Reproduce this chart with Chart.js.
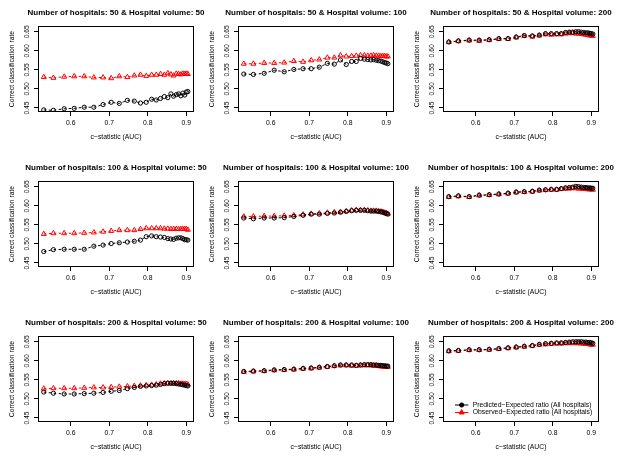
<!DOCTYPE html>
<html><head><meta charset="utf-8">
<script src="https://cdn.jsdelivr.net/npm/chart.js@4/dist/chart.umd.min.js"></script>
<style>
html,body{margin:0;padding:0;background:#fff;}
#wrap{position:relative;width:623px;height:460px;overflow:hidden;background:#fff;}
#wrap canvas{position:absolute;}
</style></head><body><div id="wrap"></div>
<script>
// ---------------- data ----------------
const auc = [0.530,0.555,0.583,0.609,0.635,0.660,0.684,0.705,0.726,0.747,0.765,0.781,0.796,0.810,0.822,0.833,0.843,0.852,0.860,0.867,0.874,0.880,0.886,0.891,0.896,0.900,0.904];
const xTicks = [0.6,0.7,0.8,0.9];
const yTicks = [0.45,0.50,0.55,0.60,0.65];
const hospitals = [50,100,200];
const volumes = [50,100,200];
const seriesNames = ["Predicted\u2212Expected ratio (All hospitals)","Observed\u2212Expected ratio (All hospitals)"];
const xTitle = "c\u2212statistic (AUC)";
const yTitle = "Correct classification rate";

const pe_50_50  = [0.445,0.444,0.448,0.449,0.452,0.452,0.459,0.465,0.462,0.470,0.468,0.463,0.465,0.473,0.471,0.475,0.480,0.477,0.487,0.481,0.485,0.487,0.482,0.489,0.484,0.492,0.493];
const oe_50_50  = [0.531,0.529,0.532,0.533,0.533,0.530,0.530,0.528,0.533,0.531,0.535,0.537,0.534,0.537,0.537,0.539,0.537,0.541,0.538,0.535,0.540,0.539,0.538,0.540,0.539,0.540,0.539];
const pe_50_100 = [0.539,0.538,0.541,0.549,0.545,0.551,0.553,0.553,0.557,0.567,0.565,0.576,0.564,0.572,0.572,0.580,0.578,0.577,0.576,0.577,0.575,0.574,0.573,0.571,0.569,0.568,0.566];
const oe_50_100 = [0.566,0.566,0.568,0.568,0.569,0.573,0.571,0.575,0.577,0.582,0.582,0.588,0.585,0.586,0.587,0.588,0.588,0.587,0.587,0.588,0.587,0.587,0.586,0.586,0.586,0.585,0.585];
const pe_50_200 = [0.623,0.626,0.628,0.628,0.629,0.632,0.632,0.636,0.640,0.639,0.641,0.645,0.645,0.645,0.645,0.648,0.649,0.649,0.650,0.650,0.649,0.648,0.647,0.647,0.646,0.645,0.644];
const oe_50_200 = [0.623,0.625,0.627,0.626,0.628,0.631,0.631,0.635,0.639,0.637,0.640,0.643,0.642,0.643,0.643,0.645,0.646,0.646,0.645,0.645,0.644,0.643,0.642,0.641,0.640,0.640,0.639];
const pe_100_50  = [0.480,0.485,0.486,0.486,0.486,0.494,0.497,0.501,0.503,0.505,0.507,0.510,0.519,0.521,0.519,0.518,0.517,0.514,0.513,0.512,0.515,0.516,0.516,0.514,0.511,0.511,0.510];
const oe_100_50  = [0.526,0.528,0.528,0.528,0.529,0.530,0.532,0.534,0.536,0.536,0.536,0.539,0.541,0.541,0.541,0.541,0.540,0.540,0.539,0.539,0.539,0.539,0.539,0.539,0.539,0.539,0.537];
const pe_100_100 = [0.568,0.566,0.568,0.568,0.569,0.572,0.575,0.578,0.578,0.580,0.581,0.583,0.585,0.587,0.588,0.588,0.588,0.587,0.586,0.586,0.586,0.585,0.584,0.583,0.581,0.580,0.578];
const oe_100_100 = [0.572,0.572,0.573,0.573,0.574,0.575,0.577,0.579,0.580,0.582,0.583,0.584,0.586,0.588,0.589,0.589,0.589,0.588,0.587,0.587,0.587,0.586,0.585,0.584,0.582,0.581,0.579];
const pe_100_200 = [0.624,0.626,0.624,0.628,0.629,0.631,0.633,0.636,0.637,0.638,0.641,0.642,0.643,0.643,0.645,0.647,0.648,0.649,0.651,0.650,0.649,0.648,0.648,0.647,0.647,0.646,0.646];
const oe_100_200 = [0.623,0.625,0.623,0.627,0.628,0.630,0.632,0.635,0.636,0.637,0.640,0.641,0.642,0.642,0.644,0.645,0.645,0.646,0.646,0.645,0.645,0.644,0.644,0.643,0.643,0.643,0.642];
const pe_200_50  = [0.518,0.515,0.513,0.513,0.514,0.515,0.517,0.520,0.522,0.527,0.530,0.533,0.534,0.535,0.536,0.538,0.540,0.541,0.541,0.541,0.540,0.539,0.538,0.537,0.536,0.535,0.534];
const oe_200_50  = [0.527,0.528,0.528,0.528,0.529,0.530,0.530,0.531,0.532,0.533,0.534,0.535,0.536,0.537,0.538,0.540,0.541,0.541,0.541,0.541,0.541,0.541,0.540,0.540,0.539,0.539,0.538];
const pe_200_100 = [0.572,0.573,0.574,0.576,0.577,0.578,0.580,0.581,0.583,0.585,0.587,0.589,0.589,0.589,0.588,0.589,0.590,0.590,0.590,0.589,0.589,0.588,0.588,0.587,0.587,0.586,0.586];
const oe_200_100 = [0.571,0.572,0.573,0.575,0.576,0.577,0.579,0.580,0.582,0.584,0.586,0.588,0.588,0.587,0.587,0.588,0.588,0.588,0.588,0.587,0.587,0.586,0.585,0.585,0.584,0.584,0.584];
const pe_200_200 = [0.626,0.627,0.629,0.629,0.630,0.632,0.634,0.636,0.638,0.640,0.643,0.645,0.646,0.647,0.647,0.648,0.649,0.650,0.650,0.650,0.650,0.649,0.649,0.648,0.648,0.647,0.646];
const oe_200_200 = [0.625,0.626,0.628,0.628,0.629,0.631,0.633,0.635,0.637,0.639,0.642,0.643,0.644,0.645,0.645,0.646,0.646,0.646,0.646,0.646,0.645,0.645,0.644,0.644,0.643,0.642,0.642];

const peSeries = [[pe_50_50,pe_50_100,pe_50_200],[pe_100_50,pe_100_100,pe_100_200],[pe_200_50,pe_200_100,pe_200_200]];
const oeSeries = [[oe_50_50,oe_50_100,oe_50_200],[oe_100_50,oe_100_100,oe_100_200],[oe_200_50,oe_200_100,oe_200_200]];

// ---------------- layout ----------------
const FONT = "'Liberation Sans', Arial, Helvetica, sans-serif";
const BASE = 6.8;
const TITLE = 8;
const CW = 232, CH = 155;
const colLeft = [0, 200, 405];
const rowTop = [0, 155, 310];
const AREA_LEFT = 38, AREA_TOP = 26, AREA_W = 156, AREA_H = 86;

Chart.defaults.font.family = FONT;
Chart.defaults.color = '#000';

const boxPlugin = {
  id: 'rbox',
  afterDraw(chart) {
    const ctx = chart.ctx, a = chart.chartArea;
    ctx.save();
    ctx.strokeStyle = '#000';
    ctx.lineWidth = 1;
    ctx.strokeRect(Math.round(a.left) + 0.5, Math.round(a.top) + 0.5, Math.round(a.right - a.left) - 1, Math.round(a.bottom - a.top) - 1);
    // rotated y tick labels (R style, parallel to the axis)
    const ys = chart.scales.y;
    ctx.fillStyle = '#000';
    ctx.font = BASE + 'px ' + FONT;
    ctx.textAlign = 'center';
    ctx.textBaseline = 'middle';
    ys.ticks.forEach(t => {
      const py = ys.getPixelForValue(t.value);
      ctx.save();
      ctx.translate(a.left - 11.3, py);
      ctx.rotate(-Math.PI / 2);
      ctx.fillText(t.value.toFixed(2), 0, 0);
      ctx.restore();
    });
    ctx.restore();
  }
};

const legendPlugin = {
  id: 'rlegend',
  afterDraw(chart) {
    const ctx = chart.ctx, a = chart.chartArea;
    const x0 = a.left + 12, x1 = a.left + 25.3, tx = a.left + 29.7;
    const yy = [a.top + 69, a.top + 76.5];
    ctx.save();
    chart.data.datasets.forEach((ds, i) => {
      const y = yy[i];
      ctx.strokeStyle = ds.borderColor;
      ctx.lineWidth = 1;
      ctx.setLineDash([]);
      ctx.beginPath();
      ctx.moveTo(x0, y); ctx.lineTo(x1, y);
      ctx.stroke();
      ctx.fillStyle = ds.borderColor;
      Chart.helpers.drawPoint(ctx, {pointStyle: ds.pointStyle, radius: ds.pointRadius, borderWidth: 1, rotation: 0}, (x0 + x1) / 2, y);
      ctx.fillStyle = '#000';
      ctx.font = BASE + 'px ' + FONT;
      ctx.textAlign = 'left';
      ctx.textBaseline = 'middle';
      ctx.fillText(ds.label, tx, y);
    });
    ctx.restore();
  }
};

const wrap = document.getElementById('wrap');
for (let r = 0; r < 3; r++) {
  for (let c = 0; c < 3; c++) {
    const cv = document.createElement('canvas');
    cv.width = CW; cv.height = CH;
    cv.style.left = colLeft[c] + 'px';
    cv.style.top = rowTop[r] + 'px';
    cv.style.width = CW + 'px'; cv.style.height = CH + 'px';
    wrap.appendChild(cv);
    const mk = arr => auc.map((x, i) => ({x: x, y: arr[i]}));
    const plugins = [boxPlugin];
    if (r === 2 && c === 2) plugins.push(legendPlugin);
    new Chart(cv, {
      type: 'line',
      data: {
        datasets: [
          {label: seriesNames[0], data: mk(peSeries[r][c]), borderColor: '#000000', backgroundColor: 'rgba(0,0,0,0)',
           pointStyle: 'circle', pointRadius: 2.1, pointBorderWidth: 1, pointBackgroundColor: 'rgba(0,0,0,0)', pointBorderColor: '#000000',
           borderWidth: 1, borderDash: [2.5, 2.5], tension: 0, fill: false},
          {label: seriesNames[1], data: mk(oeSeries[r][c]), borderColor: '#FF0000', backgroundColor: 'rgba(0,0,0,0)',
           pointStyle: 'triangle', pointRadius: 2.9, pointBorderWidth: 1, pointBackgroundColor: 'rgba(0,0,0,0)', pointBorderColor: '#FF0000',
           borderWidth: 1, borderDash: [2.5, 2.5], tension: 0, fill: false}
        ]
      },
      options: {
        responsive: false, animation: false, devicePixelRatio: 1,
        layout: {padding: {left: 0, top: 0, right: 0, bottom: 0}},
        plugins: {
          legend: {display: false}, tooltip: {enabled: false},
          title: {display: true, fullSize: true, text: 'Number of hospitals: ' + hospitals[r] + ' & Hospital volume: ' + volumes[c],
                  font: {size: TITLE, weight: 'bold', family: FONT, lineHeight: 1.2}, color: '#000', padding: {top: 8.4, bottom: AREA_TOP - 8.4 - TITLE * 1.2}}
        },
        scales: {
          x: {
            type: 'linear', min: 0.515, max: 0.92,
            afterBuildTicks: s => { s.ticks = xTicks.map(v => ({value: v})); },
            afterFit: s => { s.height = CH - AREA_TOP - AREA_H; },
            ticks: {font: {size: BASE, family: FONT}, color: '#000', padding: 3, maxRotation: 0, autoSkip: false,
                    callback: v => Number(v).toFixed(1)},
            grid: {drawOnChartArea: false, drawTicks: true, tickLength: 4, color: '#000', tickColor: '#000', lineWidth: 1},
            border: {display: false},
            title: {display: true, text: xTitle, font: {size: BASE, family: FONT, lineHeight: 1.2}, color: '#000', padding: {top: 0, bottom: 13.5}}
          },
          y: {
            type: 'linear', min: 0.4395, max: 0.665,
            afterBuildTicks: s => { s.ticks = yTicks.map(v => ({value: v})); },
            afterFit: s => { s.width = AREA_LEFT; },
            ticks: {font: {size: BASE, family: FONT}, color: 'rgba(0,0,0,0)', autoSkip: false, callback: v => Number(v).toFixed(2)},
            grid: {drawOnChartArea: false, drawTicks: true, tickLength: 4, color: '#000', tickColor: '#000', lineWidth: 1},
            border: {display: false},
            title: {display: true, text: yTitle, font: {size: BASE, family: FONT, lineHeight: 1.2}, color: '#000', padding: {top: 7.6, bottom: 0}}
          },
          spacer: {
            type: 'linear', position: 'right', display: true, min: 0, max: 1,
            afterFit: s => { s.width = CW - AREA_LEFT - AREA_W; },
            ticks: {display: false}, grid: {display: false}, border: {display: false}, title: {display: false}
          }
        }
      },
      plugins: plugins
    });
  }
}
</script></body></html>
